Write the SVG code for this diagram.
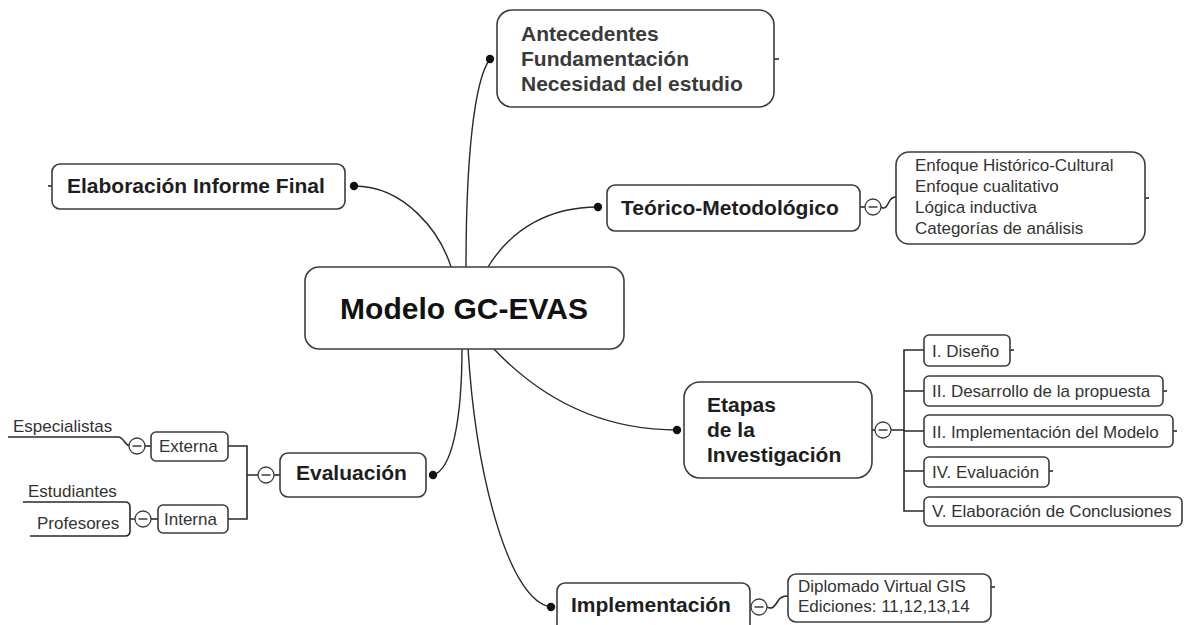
<svg xmlns="http://www.w3.org/2000/svg" width="1185" height="625" viewBox="0 0 1185 625">
  <style>
    .box { fill: #ffffff; stroke: #3c3c3c; stroke-width: 1.6; }
    .link { fill: none; stroke: #2a2a2a; stroke-width: 1.4; }
    .line { fill: none; stroke: #2a2a2a; stroke-width: 1.6; }
    .dot { fill: #111111; }
    .tog { fill: #ffffff; stroke: #3c3c3c; stroke-width: 1.3; }
    .minus { stroke: #3c3c3c; stroke-width: 1.5; }
    .main { font-family: "Liberation Sans", Arial, sans-serif; font-weight: bold; font-size: 30px; fill: #111111; }
    .topic { font-family: "Liberation Sans", Arial, sans-serif; font-weight: bold; font-size: 21px; fill: #1e1e1e; }
    .topic-grey { font-family: "Liberation Sans", Arial, sans-serif; font-weight: bold; font-size: 21px; fill: #3a3a3a; }
    .sub { font-family: "Liberation Sans", Arial, sans-serif; font-size: 17px; fill: #333333; }
  </style>
  <defs>
    <g id="toggle">
      <circle r="8" class="tog"/>
      <line x1="-4.5" y1="0" x2="4.5" y2="0" class="minus"/>
    </g>
  </defs>
  <rect width="1185" height="625" fill="#ffffff"/>

  <!-- branches leaving the central topic -->
  <g id="connectors">
    <path class="link" d="M451,267 C440,232 405,186 354,186"/>
    <path class="link" d="M466,267 C466,160 474,80 490,59"/>
    <path class="link" d="M488,267 C512,228 550,207 598,207"/>
    <path class="link" d="M493,348 C540,398 600,430 677,430"/>
    <path class="link" d="M462,348 C462,420 452,470 433,475"/>
    <path class="link" d="M468,348 C476,480 510,602 551,607"/>
    <circle class="dot" cx="354" cy="186" r="4.2"/>
    <circle class="dot" cx="490" cy="59" r="4.2"/>
    <circle class="dot" cx="598" cy="207" r="4.2"/>
    <circle class="dot" cx="677" cy="430" r="4.2"/>
    <circle class="dot" cx="433" cy="475" r="4.2"/>
    <circle class="dot" cx="551" cy="607" r="4.2"/>

    <!-- end stubs -->
    <line class="line" x1="774" y1="59" x2="779" y2="59"/>
    <line class="line" x1="48" y1="186" x2="52" y2="186"/>
    <line class="line" x1="1145" y1="198" x2="1149" y2="198"/>
    <line class="line" x1="1010" y1="350" x2="1014" y2="350"/>
    <line class="line" x1="1163" y1="391" x2="1167" y2="391"/>
    <line class="line" x1="1173" y1="431" x2="1177" y2="431"/>
    <line class="line" x1="1049" y1="471" x2="1053" y2="471"/>
    <line class="line" x1="991" y1="587" x2="995" y2="587"/>

    <!-- Teórico-Metodológico to its detail box -->
    <line class="line" x1="860" y1="207" x2="865" y2="207"/>
    <path class="line" d="M881,207 C885,210 887,206 889,202 C891,198 893,197 896,197"/>

    <!-- Etapas tree -->
    <line class="line" x1="872" y1="430" x2="875" y2="430"/>
    <path class="line" d="M891,430 H904 M924,350 H904 V511 H924 M904,391 H924 M904,431 H924 M904,471 H924"/>

    <!-- Implementación to its detail box -->
    <line class="line" x1="750" y1="607" x2="751" y2="607"/>
    <path class="line" d="M767,607 C772,610 775,606 778,601 C780,597 783,596 788,596"/>

    <!-- Evaluación tree -->
    <line class="line" x1="274" y1="475" x2="280" y2="475"/>
    <path class="line" d="M258,475 H247 M228,446 H247 V519 H228"/>
    <line class="line" x1="144" y1="446" x2="151" y2="446"/>
    <path class="line" d="M130,446 C125,446 124,437 118,437 L8,437"/>
    <line class="line" x1="151" y1="519" x2="158" y2="519"/>
    <path class="line" d="M135,519 H130 M23,502 H125 Q130,502 130,507 V531 Q130,536 125,536 H30"/>
  </g>

  <g id="central">
    <rect class="box" x="305" y="267" width="319" height="82" rx="14"/>
    <text class="main" x="464" y="319" text-anchor="middle">Modelo GC-EVAS</text>
  </g>

  <g id="antecedentes">
    <rect class="box" x="497" y="10" width="277" height="97" rx="15"/>
    <text class="topic-grey" x="521" y="41">Antecedentes</text>
    <text class="topic-grey" x="521" y="66">Fundamentación</text>
    <text class="topic-grey" x="521" y="91">Necesidad del estudio</text>
  </g>

  <g id="informe-final">
    <rect class="box" x="52" y="164" width="293" height="45" rx="8"/>
    <text class="topic" x="67" y="193">Elaboración Informe Final</text>
  </g>

  <g id="teorico">
    <rect class="box" x="607" y="185" width="253" height="46" rx="8"/>
    <text class="topic" x="621" y="215">Teórico-Metodológico</text>
    <use href="#toggle" x="873" y="207"/>
  </g>

  <g id="teorico-detalle">
    <rect class="box" x="896" y="152" width="249" height="92" rx="13"/>
    <text class="sub" x="915" y="171">Enfoque Histórico-Cultural</text>
    <text class="sub" x="915" y="192">Enfoque cualitativo</text>
    <text class="sub" x="915" y="213">Lógica inductiva</text>
    <text class="sub" x="915" y="234">Categorías de análisis</text>
  </g>

  <g id="etapas">
    <rect class="box" x="684" y="382" width="188" height="96" rx="16"/>
    <text class="topic" x="707" y="412">Etapas</text>
    <text class="topic" x="707" y="437">de la</text>
    <text class="topic" x="707" y="462">Investigación</text>
    <use href="#toggle" x="883" y="430"/>
  </g>

  <g id="etapa-1">
    <rect class="box" x="924" y="335" width="86" height="31" rx="5"/>
    <text class="sub" x="932" y="357">I. Diseño</text>
  </g>
  <g id="etapa-2">
    <rect class="box" x="924" y="376" width="239" height="30" rx="5"/>
    <text class="sub" x="932" y="397">II. Desarrollo de la propuesta</text>
  </g>
  <g id="etapa-3">
    <rect class="box" x="924" y="415" width="249" height="32" rx="5"/>
    <text class="sub" x="932" y="438">II. Implementación del Modelo</text>
  </g>
  <g id="etapa-4">
    <rect class="box" x="924" y="457" width="125" height="30" rx="5"/>
    <text class="sub" x="932" y="478">IV. Evaluación</text>
  </g>
  <g id="etapa-5">
    <rect class="box" x="924" y="497" width="258" height="29" rx="5"/>
    <text class="sub" x="932" y="517">V. Elaboración de Conclusiones</text>
  </g>

  <g id="evaluacion">
    <rect class="box" x="280" y="453" width="146" height="44" rx="8"/>
    <text class="topic" x="296" y="480">Evaluación</text>
    <use href="#toggle" x="266" y="475"/>
  </g>

  <g id="externa">
    <rect class="box" x="151" y="432" width="77" height="29" rx="5"/>
    <text class="sub" x="159" y="452">Externa</text>
    <use href="#toggle" x="137" y="446"/>
  </g>

  <g id="interna">
    <rect class="box" x="158" y="505" width="70" height="28" rx="5"/>
    <text class="sub" x="164" y="525">Interna</text>
    <use href="#toggle" x="143" y="519"/>
  </g>

  <g id="especialistas">
    <text class="sub" x="13" y="432">Especialistas</text>
  </g>
  <g id="estudiantes">
    <text class="sub" x="28" y="497">Estudiantes</text>
  </g>
  <g id="profesores">
    <text class="sub" x="37" y="529">Profesores</text>
  </g>

  <g id="implementacion">
    <rect class="box" x="557" y="583" width="193" height="50" rx="8"/>
    <text class="topic" x="571" y="612">Implementación</text>
    <use href="#toggle" x="759" y="607"/>
  </g>

  <g id="implementacion-detalle">
    <rect class="box" x="788" y="574" width="203" height="48" rx="8"/>
    <text class="sub" x="798" y="592">Diplomado Virtual GIS</text>
    <text class="sub" x="798" y="612">Ediciones: 11,12,13,14</text>
  </g>
</svg>
